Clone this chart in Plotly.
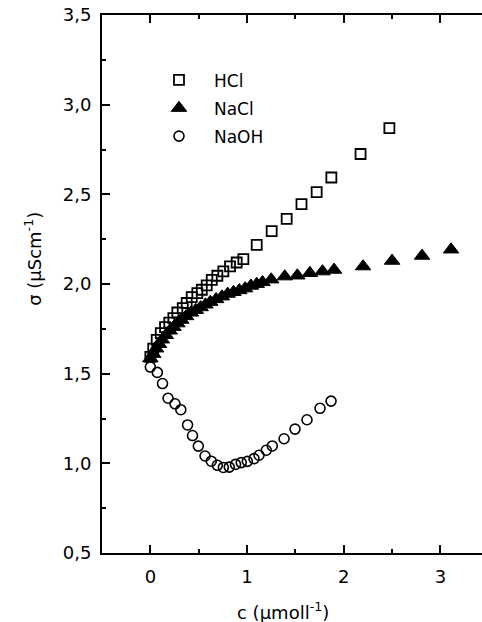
import plotly.graph_objects as go

# ---- data ----
hcl_c = [0.0, 0.03, 0.066, 0.108, 0.152, 0.196, 0.238, 0.279, 0.335, 0.376, 0.428, 0.486,
         0.532, 0.583, 0.635, 0.693, 0.755, 0.824, 0.893, 0.962, 1.10, 1.255, 1.41, 1.563,
         1.72, 1.872, 2.174, 2.472]
hcl_s = [1.594, 1.64, 1.688, 1.726, 1.76, 1.785, 1.81, 1.841, 1.866, 1.894, 1.927, 1.949,
         1.968, 1.992, 2.023, 2.046, 2.07, 2.098, 2.12, 2.139, 2.218, 2.295, 2.363, 2.445,
         2.512, 2.594, 2.725, 2.869]

nacl_c = [0.0, 0.03, 0.06, 0.09, 0.12, 0.16, 0.20, 0.24, 0.28, 0.32, 0.37, 0.42, 0.47, 0.52,
          0.57, 0.62, 0.68, 0.74, 0.80, 0.86, 0.92, 0.98, 1.04, 1.10, 1.16, 1.25, 1.39, 1.52,
          1.65, 1.78, 1.90, 2.20, 2.50, 2.81, 3.11]
nacl_s = [1.585, 1.61, 1.64, 1.665, 1.69, 1.715, 1.74, 1.76, 1.78, 1.80, 1.82, 1.84, 1.855,
          1.87, 1.885, 1.90, 1.915, 1.93, 1.945, 1.955, 1.965, 1.975, 1.99, 2.00, 2.01, 2.025,
          2.042, 2.047, 2.061, 2.07, 2.079, 2.098, 2.129, 2.157, 2.192]

naoh_c = [0.0, 0.072, 0.126, 0.183, 0.255, 0.315, 0.385, 0.436, 0.496, 0.566, 0.63, 0.693,
          0.755, 0.816, 0.881, 0.94, 1.003, 1.072, 1.124, 1.199, 1.261, 1.383, 1.496, 1.62,
          1.755, 1.869]
naoh_s = [1.537, 1.507, 1.445, 1.363, 1.332, 1.299, 1.214, 1.155, 1.096, 1.041, 1.012, 0.989,
          0.977, 0.979, 0.994, 1.004, 1.011, 1.026, 1.045, 1.073, 1.097, 1.137, 1.191, 1.243,
          1.307, 1.347]

x_ticks = [0, 1, 2, 3]
y_ticks = [0.5, 1.0, 1.5, 2.0, 2.5, 3.0, 3.5]
y_labels = ["0,5", "1,0", "1,5", "2,0", "2,5", "3,0", "3,5"]

FONT = "DejaVu Sans, Liberation Sans, Arial, sans-serif"

fig = go.Figure()
fig.add_trace(go.Scatter(x=hcl_c, y=hcl_s, mode="markers", name="HCl", legendrank=1,
                         legendgroup="a",
                         marker=dict(symbol="square-open", size=10, color="black",
                                     line=dict(width=1.8, color="black"))))
fig.add_trace(go.Scatter(x=naoh_c, y=naoh_s, mode="markers", name="NaOH", legendrank=3,
                         legendgroup="c",
                         marker=dict(symbol="circle-open", size=10, color="black",
                                     line=dict(width=1.6, color="black"))))
fig.add_trace(go.Scatter(x=nacl_c, y=nacl_s, mode="markers", name="NaCl", legendrank=2,
                         legendgroup="b",
                         marker=dict(symbol="triangle-up", size=13.5, color="black",
                                     line=dict(width=1, color="black"))))

fig.update_layout(
    width=482, height=622,
    margin=dict(l=102, r=0, t=15, b=69),
    plot_bgcolor="white", paper_bgcolor="white",
    separators=",.",
    font=dict(family=FONT, size=17, color="black"),
    showlegend=True,
    legend=dict(x=0.1105, y=0.912, xanchor="left", yanchor="top",
                bgcolor="rgba(0,0,0,0)", borderwidth=0, tracegroupgap=3,
                traceorder="grouped", itemwidth=60,
                font=dict(family=FONT, size=17, color="black")),
    xaxis=dict(range=[-0.5, 3.43], tickvals=x_ticks, ticktext=[str(v) for v in x_ticks],
               showline=True, linecolor="black", linewidth=2, mirror="ticks",
               ticks="inside", ticklen=8, tickwidth=1.5, tickcolor="black",
               ticklabelstandoff=6,
               minor=dict(dtick=0.5, tick0=0, ticks="inside", ticklen=4, tickwidth=1.5,
                          tickcolor="black"),
               showgrid=False, zeroline=False,
               tickfont=dict(family=FONT, size=18)),
    yaxis=dict(range=[0.5, 3.5], tickvals=y_ticks, ticktext=y_labels,
               showline=True, linecolor="black", linewidth=2, mirror=False,
               ticks="inside", ticklen=8, tickwidth=1.5, tickcolor="black",
               ticklabelstandoff=5,
               minor=dict(dtick=0.25, tick0=0.5, ticks="inside", ticklen=4, tickwidth=1.5,
                          tickcolor="black"),
               showgrid=False, zeroline=False,
               tickfont=dict(family=FONT, size=18)),
    yaxis2=dict(range=[0.5, 3.5], overlaying="y", side="right", anchor="x",
                tickvals=y_ticks, showticklabels=False, showline=False,
                ticks="inside", ticklen=2, tickwidth=1.5, tickcolor="black",
                showgrid=False, zeroline=False),
)

fig.add_annotation(text="σ (µScm<sup>-1</sup>)", xref="paper", yref="paper",
                   x=-0.1816, y=0.5467, xanchor="center", yanchor="middle",
                   textangle=-90, showarrow=False, font=dict(family=FONT, size=18))
fig.add_annotation(text="c (µmoll<sup>-1</sup>)", xref="paper", yref="paper",
                   x=0.4776, y=-0.1072, xanchor="center", yanchor="middle",
                   showarrow=False, font=dict(family=FONT, size=18))

fig.write_html("out.html")
